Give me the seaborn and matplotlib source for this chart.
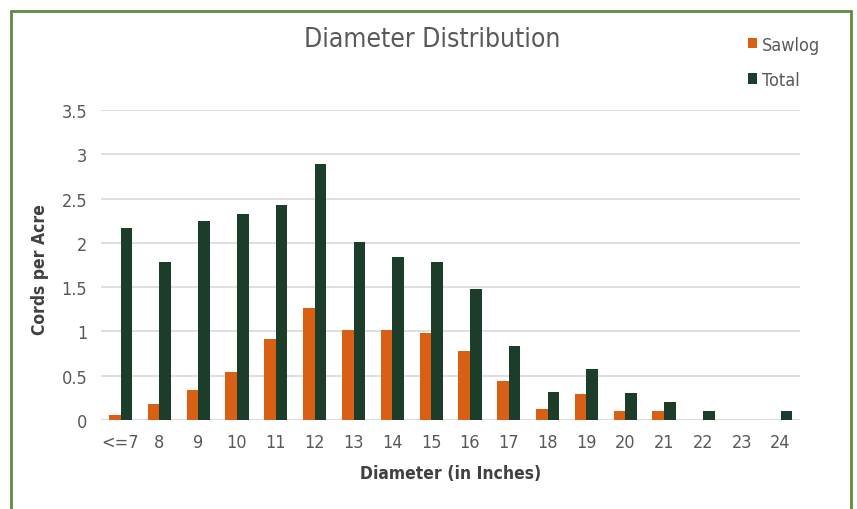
import matplotlib
matplotlib.use("Agg")
import matplotlib.pyplot as plt
import seaborn as sns
import pandas as pd
from matplotlib.lines import Line2D
from matplotlib.patches import Patch

# Diameter classes and cords per acre for each product
diameters = ["<=7", "8", "9", "10", "11", "12", "13", "14", "15", "16",
             "17", "18", "19", "20", "21", "22", "23", "24"]
sawlog = [0.06, 0.18, 0.34, 0.54, 0.92, 1.27, 1.02, 1.02, 0.98, 0.78,
          0.44, 0.12, 0.29, 0.10, 0.10, 0.0, 0.0, 0.0]
total = [2.17, 1.79, 2.25, 2.33, 2.43, 2.89, 2.01, 1.84, 1.78, 1.48,
         0.84, 0.32, 0.58, 0.31, 0.20, 0.10, 0.0, 0.10]
series = ["Sawlog", "Total"]
yticks = [0, 0.5, 1, 1.5, 2, 2.5, 3, 3.5]
ytick_labels = ["0", "0.5", "1", "1.5", "2", "2.5", "3", "3.5"]

colors = {"Sawlog": "#D95F14", "Total": "#1B3D2A"}
text_grey = "#595959"
label_grey = "#404040"

df = pd.DataFrame({
    "Diameter": diameters * 2,
    "Cords": sawlog + total,
    "Series": [series[0]] * len(diameters) + [series[1]] * len(diameters),
})

sns.set_theme(style="white")
plt.rcParams["font.family"] = ["DejaVu Sans"]
plt.rcParams["font.stretch"] = "condensed"

fig = plt.figure(figsize=(8.57, 5.10), dpi=100)
ax = fig.add_axes([0.118, 0.1745, 0.8155, 0.6075])

sns.barplot(data=df, x="Diameter", y="Cords", hue="Series", order=diameters,
            hue_order=series, palette=colors, saturation=1, width=0.6,
            linewidth=0, errorbar=None, ax=ax, zorder=3, legend=False)

ax.set_ylim(0, 3.5)
ax.set_xlim(-0.5, len(diameters) - 0.5)
ax.set_yticks(yticks)
ax.set_yticklabels(ytick_labels)
ax.yaxis.grid(True, color="#D9D9D9", linewidth=1.2, zorder=0)
ax.xaxis.grid(False)
for s in ["top", "right", "left", "bottom"]:
    ax.spines[s].set_visible(False)
ax.axhline(0, color="#D9D9D9", linewidth=1.2, zorder=2)
ax.tick_params(axis="y", length=0, labelsize=13, colors=text_grey, pad=10)
ax.tick_params(axis="x", length=0, labelsize=13, colors=text_grey, pad=9)

ax.set_xlabel("Diameter (in Inches)", fontsize=12.5, color=label_grey,
              fontweight="bold")
ax.xaxis.label.set_va("center")
ax.xaxis.set_label_coords(0.5, -0.171)
ax.set_ylabel("Cords per Acre", fontsize=12.5, color=label_grey,
              fontweight="bold")
ax.yaxis.label.set_va("center")
ax.yaxis.set_label_coords(-0.0873, 0.49)

fig.text(0.504, 0.921, "Diameter Distribution", ha="center", va="center",
         fontsize=19, color=text_grey)

handles = [Patch(facecolor=colors[s], edgecolor="none") for s in series]
fig.legend(handles, series, loc="upper left", bbox_to_anchor=(0.854, 0.960),
           frameon=False, fontsize=13, labelcolor=text_grey,
           handlelength=0.5, handleheight=0.5, handletextpad=0.25,
           labelspacing=0.95)

# outer frame around the chart
frame_color = "#5E8C3E"
for xs, ys in [([0.013, 0.013], [0.0, 0.976]),
               ([0.013, 0.993], [0.976, 0.976]),
               ([0.993, 0.993], [0.0, 0.976])]:
    fig.add_artist(Line2D(xs, ys, transform=fig.transFigure,
                          color=frame_color, linewidth=2))

fig.savefig("out.png", dpi=100, facecolor="white")
